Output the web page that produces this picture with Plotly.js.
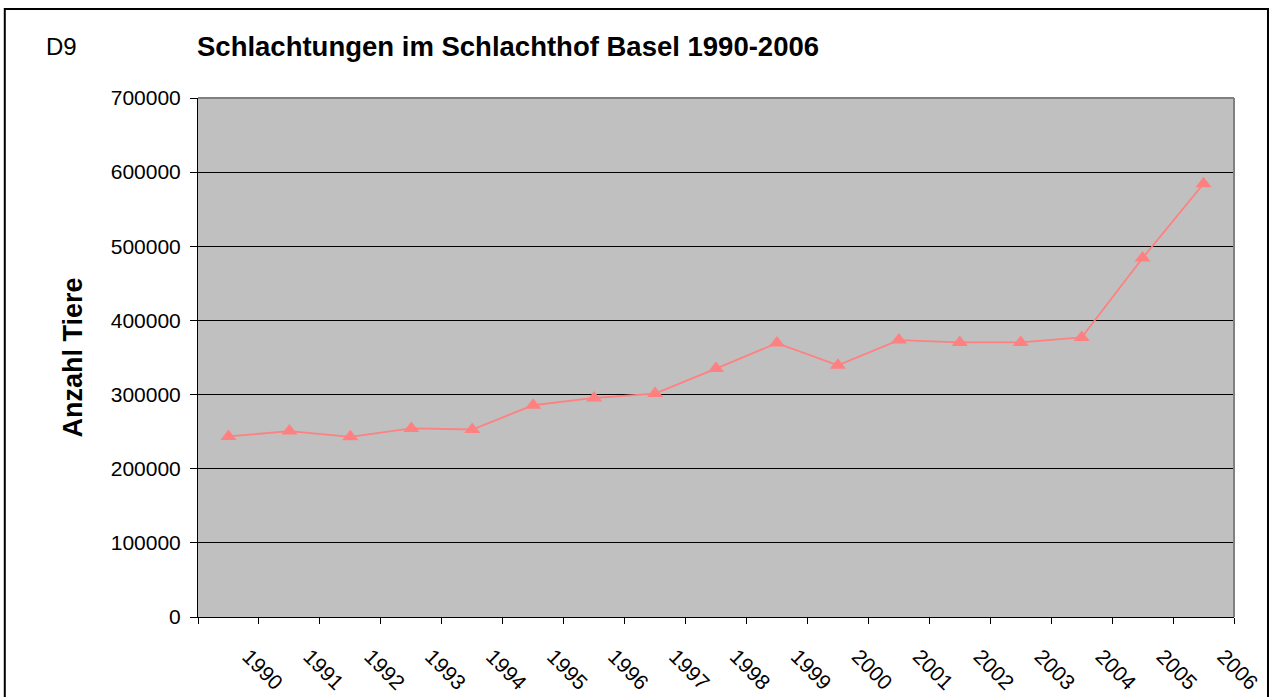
<!DOCTYPE html>
<html>
<head>
<meta charset="utf-8">
<script src="https://cdn.plot.ly/plotly-3.0.1.min.js"></script>
<style>
html,body{margin:0;padding:0;background:#fff;}
#chart{width:1269px;height:697px;}
</style>
</head>
<body>
<div id="chart"></div>
<script>
const years = ["1990","1991","1992","1993","1994","1995","1996","1997","1998","1999","2000","2001","2002","2003","2004","2005","2006"];
const animals = [243500, 250700, 243000, 254300, 252900, 285600, 295400, 301300, 335000, 369400, 339400, 373500, 370300, 370300, 377000, 484100, 584400];
const yTicks = [0, 100000, 200000, 300000, 400000, 500000, 600000, 700000];
const chartLabel = "D9";
const chartTitle = "Schlachtungen im Schlachthof Basel 1990-2006";
const yTitle = "Anzahl Tiere";

const font = "Liberation Sans, Arial, sans-serif";

const trace = {
  x: years,
  y: animals,
  type: "scatter",
  mode: "lines+markers",
  line: {color: "#FF8080", width: 1.8},
  marker: {symbol: "triangle-up", size: 14, color: "#FF8080"},
  hoverinfo: "x+y"
};

const layout = {
  width: 1269,
  height: 697,
  margin: {l: 198, r: 35, t: 98, b: 80},
  paper_bgcolor: "#ffffff",
  plot_bgcolor: "#C0C0C0",
  showlegend: false,
  font: {family: font, size: 21, color: "#000"},
  xaxis: {
    type: "category",
    range: [-0.5, 16.5],
    tickson: "boundaries",
    ticks: "outside",
    ticklen: 6,
    tickcolor: "#000",
    tickangle: 45,
    ticklabelstandoff: 18,
    ticklabelshift: 20,
    showline: true,
    linecolor: "#000",
    linewidth: 1,
    showgrid: false,
    zeroline: false,
    tickfont: {family: font, size: 21, color: "#000"}
  },
  yaxis: {
    range: [0, 700000],
    tickvals: yTicks,
    ticktext: yTicks.map(String),
    ticks: "outside",
    ticklen: 7,
    tickcolor: "#000",
    ticklabelstandoff: 5,
    showline: true,
    linecolor: "#000",
    linewidth: 1,
    showgrid: true,
    gridcolor: "#000",
    gridwidth: 1,
    zeroline: false,
    tickfont: {family: font, size: 21, color: "#000"},
    title: {text: yTitle, font: {family: font, size: 27, color: "#000", weight: "bold"}, standoff: 20}
  },
  shapes: [
    {type: "line", xref: "paper", yref: "paper", x0: 1, x1: 1, y0: 0, y1: 1, line: {color: "#808080", width: 2}},
    {type: "line", xref: "paper", yref: "paper", x0: 0, x1: 1, y0: 1, y1: 1, line: {color: "#808080", width: 2}},
    {type: "rect", xref: "paper", yref: "paper",
     x0: -0.1865, x1: 1.0328, y0: -0.2, y1: 1.1715,
     line: {color: "#000", width: 2}, layer: "above"}
  ],
  annotations: [
    {text: chartLabel, xref: "paper", yref: "paper", x: -0.1485, y: 1.099, xanchor: "left", yanchor: "middle",
     showarrow: false, font: {family: font, size: 24, color: "#000"}},
    {text: "<b>" + chartTitle + "</b>", xref: "paper", yref: "paper", x: -0.0029, y: 1.099, xanchor: "left", yanchor: "middle",
     showarrow: false, font: {family: font, size: 27.5, color: "#000"}}
  ]
};

Plotly.newPlot("chart", [trace], layout, {displayModeBar: false, staticPlot: true});
</script>
</body>
</html>
